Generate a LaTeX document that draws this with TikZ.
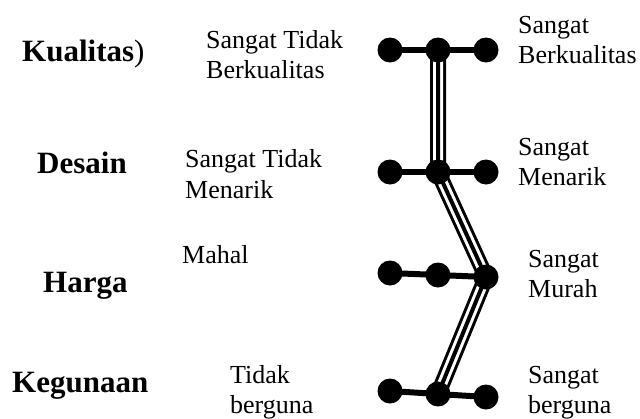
\documentclass[tikz,border=0pt]{standalone}
\usepackage{fontspec}
\setmainfont{Liberation Serif}
\usetikzlibrary{backgrounds}
\begin{document}
\begin{tikzpicture}[x=1pt,y=-1pt,
  dot/.style={circle,fill=black,inner sep=0pt,minimum size=25pt},
  crit/.style={anchor=base west,inner sep=0pt,font=\fontsize{31}{36}\selectfont\bfseries},
  lbl/.style={anchor=base west,inner sep=0pt,font=\fontsize{26}{30}\selectfont},
  bar/.style={line width=6pt},
  prof/.style={line width=16pt,line join=round},
  profgap/.style={line width=10pt,white,line join=round},
  profcore/.style={line width=4pt,line join=round}]
\useasboundingbox (0,0) rectangle (640,418);

% criteria
\node[crit] (kual) at (22,61) {Kualitas\mdseries)};
\node[crit] (des)  at (37,173) {Desain};
\node[crit] (har)  at (43,292) {Harga};
\node[crit] (keg)  at (12,392) {Kegunaan};

% negative pole labels
\node[lbl] (n1a) at (206,48)  {Sangat Tidak};
\node[lbl] (n1b) at (206,78)  {Berkualitas};
\node[lbl] (n2a) at (185,167) {Sangat Tidak};
\node[lbl] (n2b) at (185,198) {Menarik};
\node[lbl] (n3a) at (182,263) {Mahal};
\node[lbl] (n4a) at (230,383) {Tidak};
\node[lbl] (n4b) at (230,413) {berguna};

% positive pole labels
\node[lbl] (p1a) at (518,33)  {Sangat};
\node[lbl] (p1b) at (518,63)  {Berkualitas};
\node[lbl] (p2a) at (518,155) {Sangat};
\node[lbl] (p2b) at (518,185) {Menarik};
\node[lbl] (p3a) at (528,267) {Sangat};
\node[lbl] (p3b) at (528,297) {Murah};
\node[lbl] (p4a) at (528,383) {Sangat};
\node[lbl] (p4b) at (528,413) {berguna};

% scale points
\node[dot] (a1) at (390,50) {};  \node[dot] (b1) at (438,50) {};  \node[dot] (c1) at (486,50) {};
\node[dot] (a2) at (390,172) {}; \node[dot] (b2) at (438,172) {}; \node[dot] (c2) at (486,172) {};
\node[dot] (a3) at (390,273) {}; \node[dot] (b3) at (438,275) {}; \node[dot] (c3) at (486,277) {};
\node[dot] (a4) at (390,391) {}; \node[dot] (b4) at (438,394) {}; \node[dot] (c4) at (486,397) {};

\begin{scope}[on background layer]
  % scale bars
  \foreach \r in {1,2,3,4}
    \draw[bar] (a\r.center) -- (c\r.center);
  % profile line
  \draw[prof]     (b1.center) -- (b2.center) -- (c3.center) -- (b4.center);
  \draw[profgap]  (b1.center) -- (b2.center) -- (c3.center) -- (b4.center);
  \draw[profcore] (b1.center) -- (b2.center) -- (c3.center) -- (b4.center);
\end{scope}
\end{tikzpicture}
\end{document}
